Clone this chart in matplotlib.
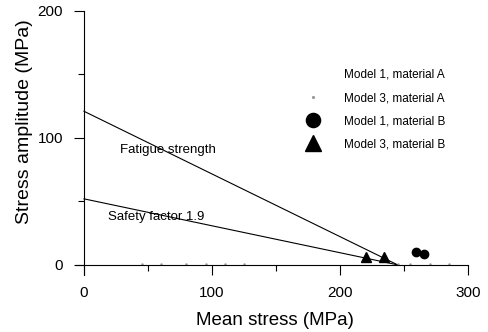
import matplotlib.pyplot as plt
from matplotlib.ticker import MultipleLocator

plt.rcParams['font.family'] = ['Liberation Sans', 'DejaVu Sans']

# Haigh diagram data
fatigue_x = [0, 245]
fatigue_y = [121, 0]
safety_x = [0, 245]
safety_y = [52, 0]

m3a_x = [45, 60, 80, 95, 110, 125, 245, 255, 270, 285]
m3a_y = [0.5, 0.5, 0.5, 0.5, 0.5, 0.5, 0.5, 0.5, 0.5, 0.5]
m1b_x = [259, 266]
m1b_y = [10, 8.7]
m3b_x = [220, 234.5]
m3b_y = [6.5, 6.3]

fig = plt.figure(figsize=(4.88, 3.32), dpi=100)
ax = fig.add_axes([0.1563, 0.1717, 0.959 - 0.1563, 0.9669 - 0.1717])

ax.plot(fatigue_x, fatigue_y, color='black', lw=0.8)
ax.plot(safety_x, safety_y, color='black', lw=0.8)

ax.plot([], [], ls='none', marker='none', label='Model 1, material A')
ax.plot(m3a_x, m3a_y, ls='none', marker='.', ms=1.5, color='#999999',
        label='Model 3, material A')
ax.plot(m1b_x, m1b_y, ls='none', marker='o', ms=6, color='black',
        label='Model 1, material B')
ax.plot(m3b_x, m3b_y, ls='none', marker='^', ms=6.5, color='black',
        label='Model 3, material B')

ax.text(28, 90.5, 'Fatigue strength', fontsize=9.5, va='center')
ax.text(19, 38, 'Safety factor 1.9', fontsize=9.5, va='center')

ax.set_xlim(-6, 300)
ax.set_ylim(-8, 200)
ax.spines['left'].set_position(('data', 0))
ax.spines['bottom'].set_position(('data', 0))
ax.spines['top'].set_visible(False)
ax.spines['right'].set_visible(False)
for s in ('left', 'bottom'):
    ax.spines[s].set_linewidth(0.8)

ax.xaxis.set_major_locator(MultipleLocator(100))
ax.xaxis.set_minor_locator(MultipleLocator(50))
ax.yaxis.set_major_locator(MultipleLocator(100))
ax.yaxis.set_minor_locator(MultipleLocator(50))
ax.tick_params(which='major', direction='out', length=7, width=0.8,
               labelsize=11, pad=8)
ax.tick_params(which='minor', direction='out', length=4, width=0.8)

ax.set_xlabel('Mean stress (MPa)', fontsize=13.5, va='center')
ax.set_ylabel('Stress amplitude (MPa)', fontsize=14, va='center')
ax.xaxis.set_label_coords((275 - 76.3) / (468 - 76.3), -(321 - 275) / (275 - 11))
ax.yaxis.set_label_coords(-(76.3 - 25) / (468 - 76.3), (275 - 122) / (275 - 11))

ax.legend(loc='upper left', bbox_to_anchor=(298 / 488, 1 - 63 / 332),
          bbox_transform=fig.transFigure, frameon=False, fontsize=8.5,
          markerscale=1.7, handlelength=1.5, handletextpad=1.9,
          labelspacing=0.95, borderpad=0)

fig.savefig('out.png', dpi=100)
